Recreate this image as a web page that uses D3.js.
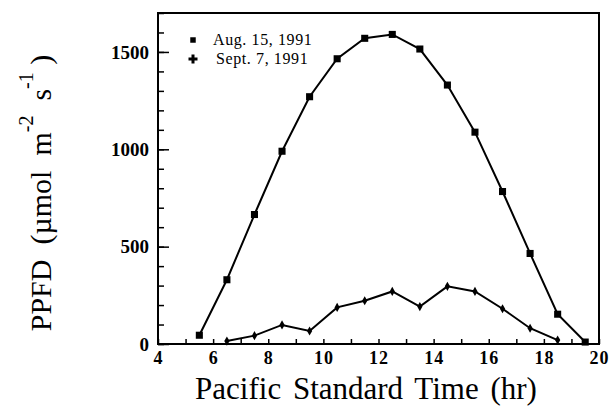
<!DOCTYPE html>
<html>
<head>
<meta charset="utf-8">
<script src="https://cdn.jsdelivr.net/npm/d3@7"></script>
<style>
  body { margin: 0; background: #fff; }
</style>
</head>
<body>
<div id="chart"></div>
<script>
// hours (half-hour marks) and PPFD readings
var hoursAug = [5.5, 6.5, 7.5, 8.5, 9.5, 10.5, 11.5, 12.5, 13.5, 14.5, 15.5, 16.5, 17.5, 18.5, 19.5];
var ppfdAug = [45, 330, 665, 990, 1270, 1465, 1570, 1590, 1515, 1330, 1088, 783, 465, 153, 10];
var hoursSep = [6.5, 7.5, 8.5, 9.5, 10.5, 11.5, 12.5, 13.5, 14.5, 15.5, 16.5, 17.5, 18.5];
var ppfdSep = [15, 43, 98, 67, 188, 222, 270, 192, 296, 270, 181, 81, 20];
var xTicks = [4, 6, 8, 10, 12, 14, 16, 18, 20];
var yTicks = [0, 500, 1000, 1500];
var legendNames = ["Aug. 15, 1991", "Sept. 7, 1991"];

var W = 612, H = 409;
var pLeft = 158, pRight = 599, pTop = 13, pBottom = 344;
var serif = "Liberation Serif";

var svg = d3.select("#chart").append("svg")
  .attr("width", W).attr("height", H);

var x = d3.scaleLinear().domain([4, 20]).range([pLeft, pRight]);
var y = d3.scaleLinear().domain([0, 1700]).range([pBottom, pTop]);

// frame
svg.append("rect")
  .attr("x", pLeft).attr("y", pTop)
  .attr("width", pRight - pLeft).attr("height", pBottom - pTop)
  .attr("fill", "none").attr("stroke", "#000").attr("stroke-width", 2);

// x axis: ticks every hour, labels every 2
var xAxis = d3.axisBottom(x)
  .tickValues(d3.range(4, 21, 1))
  .tickSize(-5).tickPadding(7)
  .tickFormat(function(d) { return xTicks.indexOf(d) >= 0 ? d : ""; });
var gx = svg.append("g").attr("transform", "translate(0," + pBottom + ")").call(xAxis);
gx.select(".domain").remove();
gx.selectAll("line").attr("stroke-width", 1.5);
gx.selectAll("text").attr("font-family", serif).attr("font-size", 18)
  .attr("font-weight", "bold").attr("letter-spacing", 1).attr("dy", "0.71em");

// y axis: major every 500, minor every 100
var gyMinor = svg.append("g").attr("transform", "translate(" + pLeft + ",0)")
  .call(d3.axisLeft(y).tickValues(d3.range(0, 1701, 100)).tickSize(-6).tickFormat(""));
gyMinor.select(".domain").remove();
gyMinor.selectAll("line").attr("stroke-width", 1.5);
var gy = svg.append("g").attr("transform", "translate(" + pLeft + ",0)")
  .call(d3.axisLeft(y).tickValues(yTicks).tickSize(-11).tickPadding(9).tickFormat(d3.format("d")));
gy.select(".domain").remove();
gy.selectAll("line").attr("stroke-width", 1.5);
gy.selectAll("text").attr("font-family", serif).attr("font-size", 19).attr("font-weight", "bold");

// lines
var line = d3.line()
  .x(function(d) { return x(d[0]); })
  .y(function(d) { return y(d[1]); });

var aug = d3.zip(hoursAug, ppfdAug);
var sep = d3.zip(hoursSep, ppfdSep);

svg.append("path").datum(aug).attr("d", line)
  .attr("fill", "none").attr("stroke", "#000").attr("stroke-width", 2);
svg.append("path").datum(sep).attr("d", line)
  .attr("fill", "none").attr("stroke", "#000").attr("stroke-width", 2);

var sq = d3.symbol().type(d3.symbolSquare).size(50);
var dia = d3.symbol().type(d3.symbolDiamond).size(24);

svg.selectAll(".aug").data(aug).enter().append("path")
  .attr("class", "aug")
  .attr("d", sq)
  .attr("transform", function(d) { return "translate(" + x(d[0]) + "," + y(d[1]) + ")"; })
  .attr("fill", "#000");

svg.selectAll(".sep").data(sep).enter().append("path")
  .attr("class", "sep")
  .attr("d", dia)
  .attr("transform", function(d) { return "translate(" + x(d[0]) + "," + y(d[1]) + ")"; })
  .attr("fill", "#000");

// legend
var lg = svg.append("g");
lg.append("path").attr("d", d3.symbol().type(d3.symbolSquare).size(30))
  .attr("transform", "translate(193,40)").attr("fill", "#000");
lg.append("path").attr("d", d3.symbol().type(d3.symbolCross).size(45))
  .attr("transform", "translate(193,59)").attr("fill", "#000");
lg.selectAll("text").data(legendNames).enter().append("text")
  .attr("x", function(d, i) { return i == 0 ? 213 : 216; })
  .attr("y", function(d, i) { return 45 + i * 18.5; })
  .attr("font-family", serif).attr("font-size", 16)
  .attr("letter-spacing", 0.6)
  .text(function(d) { return d; });

// axis titles
svg.append("text")
  .attr("x", 366).attr("y", 399)
  .attr("text-anchor", "middle")
  .attr("font-family", serif).attr("font-size", 31)
  .attr("word-spacing", 4)
  .text("Pacific Standard Time (hr)");

var yt = svg.append("text")
  .attr("transform", "translate(51,193) rotate(-90)")
  .attr("text-anchor", "middle")
  .attr("font-family", serif).attr("font-size", 30)
  .attr("xml:space", "preserve");
yt.append("tspan").text("PPFD  (\u00b5mol  m");
yt.append("tspan").attr("dy", -18).attr("font-size", 20).text("-2");
yt.append("tspan").attr("dy", 18).text("  s");
yt.append("tspan").attr("dy", -18).attr("font-size", 20).text("-1");
yt.append("tspan").attr("dy", 18).text(" )");
</script>
</body>
</html>
